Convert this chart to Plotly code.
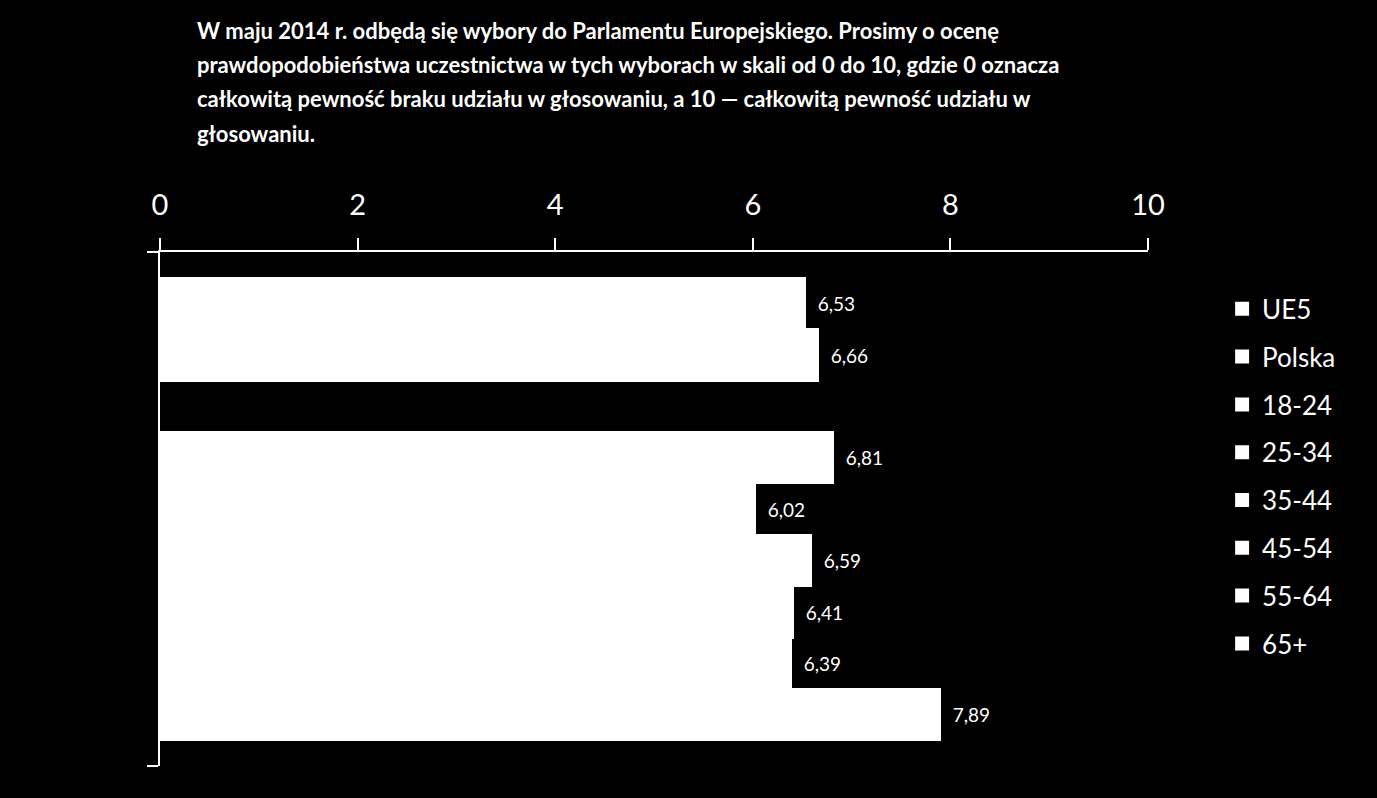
import plotly.graph_objects as go

# groups: EU average and Poland, then Polish age brackets
series = ["UE5", "Polska", "18-24", "25-34", "35-44", "45-54", "55-64", "65+"]
values = [6.53, 6.66, 6.81, 6.02, 6.59, 6.41, 6.39, 7.89]
# empty slot between the two groups
slots = ["UE5", "Polska", " ", "18-24", "25-34", "35-44", "45-54", "55-64", "65+"]

title_lines = [
    "W maju 2014 r. odbędą się wybory do Parlamentu Europejskiego. Prosimy o ocenę",
    "prawdopodobieństwa uczestnictwa w tych wyborach w skali od 0 do 10, gdzie 0 oznacza",
    "całkowitą pewność braku udziału w głosowaniu, a 10 — całkowitą pewność udziału w",
    "głosowaniu.",
]

FONT = "Lato"

fig = go.Figure()
for name, val in zip(series, values):
    fig.add_trace(go.Bar(
        x=[val], y=[name], orientation="h", name=name, legendgroup=name,
        marker=dict(color="white", line=dict(width=2, color="white")),
        texttemplate="\u00a0\u00a0%{x:.2f}", textposition="outside",
        textfont=dict(color="white", size=19, family=FONT),
        cliponaxis=False,
    ))

# title lines, one annotation each so the line spacing matches
for i, line in enumerate(title_lines):
    fig.add_annotation(text="<b>" + line + "</b>", xref="paper", yref="paper",
                       x=(195 - 160) / 988, xanchor="left",
                       y=(766 - 30 - i * 34.5) / 514, yanchor="middle",
                       showarrow=False, align="left",
                       font=dict(size=22, color="white", family=FONT))

fig.update_layout(
    width=1377, height=798,
    paper_bgcolor="black", plot_bgcolor="black",
    separators=", ",
    barmode="relative", bargap=0,
    margin=dict(l=160, r=229, t=252, b=32),
    font=dict(family=FONT, color="white"),
    showlegend=True,
    legend=dict(x=1.075, xanchor="left", y=0.935, yanchor="top",
                traceorder="grouped", tracegroupgap=11, itemwidth=30,
                font=dict(size=26, color="white", family=FONT),
                bgcolor="rgba(0,0,0,0)"),
    xaxis=dict(side="top", range=[0, 10], dtick=2, showgrid=False, zeroline=False,
               showline=True, linecolor="white", linewidth=1.5,
               ticks="outside", ticklen=12, tickcolor="white", tickwidth=1.5,
               ticklabelstandoff=12,
               tickfont=dict(size=29, color="white", family=FONT)),
    yaxis=dict(type="category", categoryorder="array", categoryarray=slots,
               range=[9, -1], showgrid=False, zeroline=False,
               showline=True, linecolor="white", linewidth=1.5,
               tickmode="array", tickvals=[-1, 9], ticktext=["", ""],
               ticks="outside", ticklen=11, tickcolor="white", tickwidth=1.5,
               showticklabels=False),
)

fig.write_html("out.html", config={"displayModeBar": False},
               post_script="document.body.style.margin='0';"
                           "document.body.style.background='black';")
